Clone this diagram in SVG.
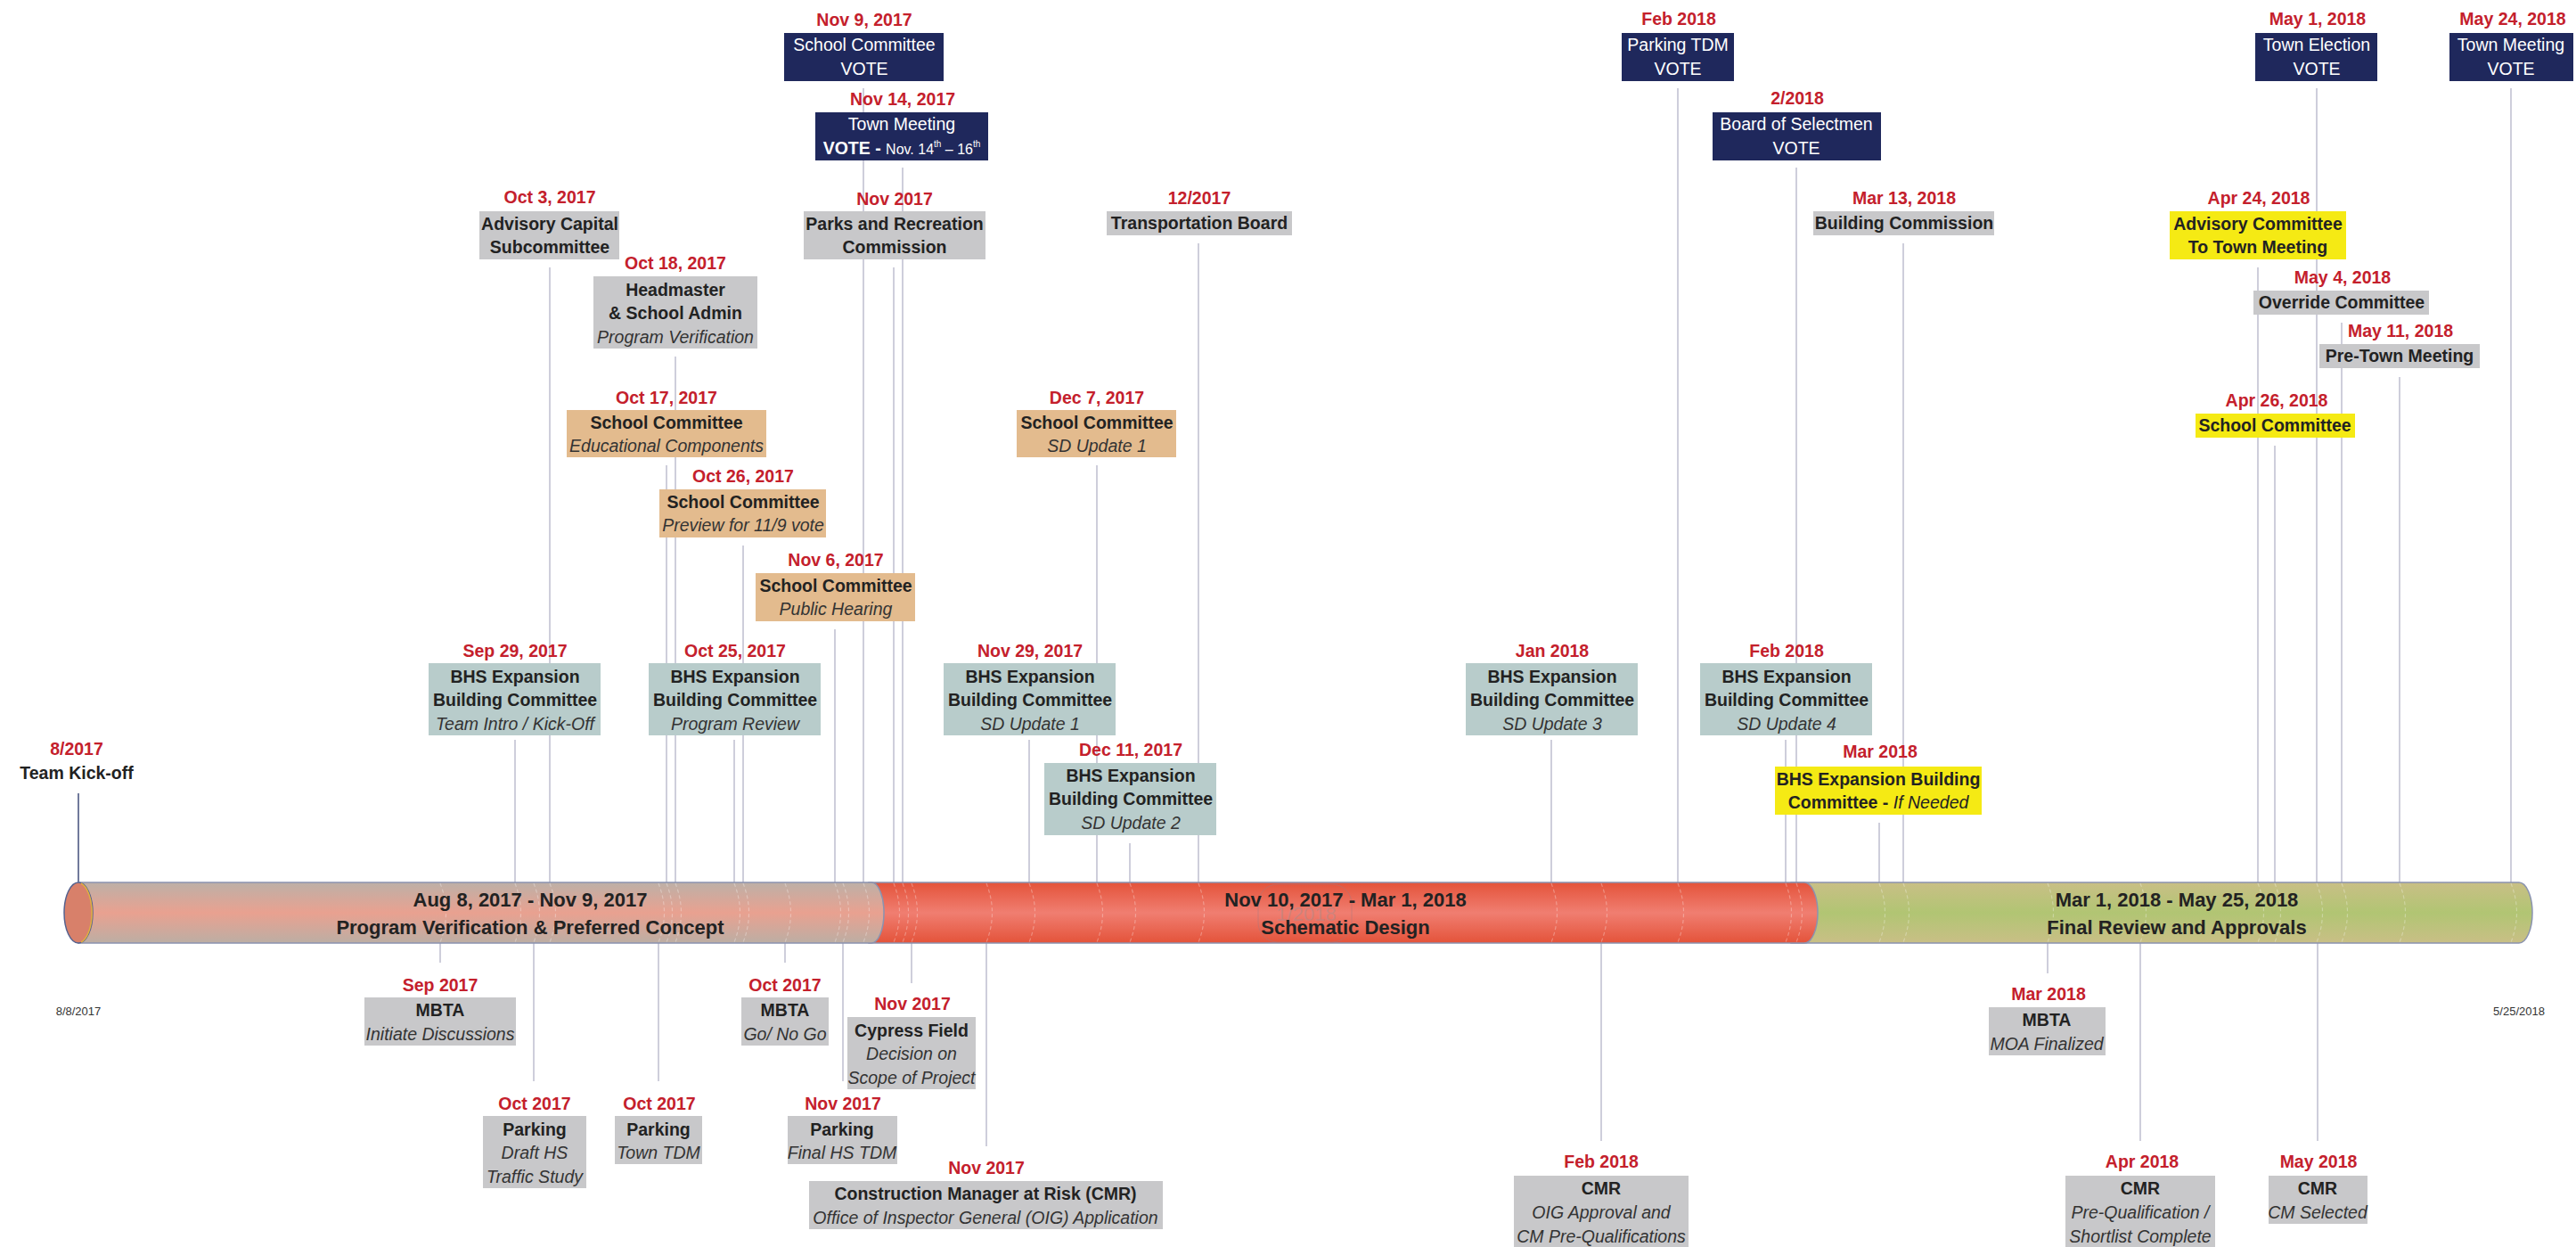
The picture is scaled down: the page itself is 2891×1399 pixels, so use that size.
<svg xmlns="http://www.w3.org/2000/svg" width="2891" height="1399" viewBox="0 0 2891 1399">
<defs>
<linearGradient id="gPink" x1="0" y1="0" x2="0" y2="1">
<stop offset="0" stop-color="#bdb0a7"/><stop offset="0.5" stop-color="#e9a190"/><stop offset="1" stop-color="#bcaea4"/>
</linearGradient>
<linearGradient id="gRed" x1="0" y1="0" x2="0" y2="1">
<stop offset="0" stop-color="#e4533a"/><stop offset="0.5" stop-color="#f07e71"/><stop offset="1" stop-color="#e4533a"/>
</linearGradient>
<linearGradient id="gGreen" x1="0" y1="0" x2="0" y2="1">
<stop offset="0" stop-color="#c9bf86"/><stop offset="0.5" stop-color="#b1c573"/><stop offset="1" stop-color="#c9bf86"/>
</linearGradient>
</defs>
<style>
text{font-family:"Liberation Sans",Arial,sans-serif;text-anchor:middle}
.d{font-size:19.5px;font-weight:bold;fill:#c4202c}
.t{font-size:19.5px;font-weight:bold;fill:#222}
.i{font-size:19.5px;font-style:italic;fill:#333}
.it{font-style:italic;font-weight:normal}
.w{font-size:19.5px;fill:#fff}
.wb{font-weight:bold}
.bar{font-size:22px;font-weight:bold;fill:#222}
.sm{font-size:13px;fill:#333}
.grey{fill:#c8c8ca}
.navy{fill:#1f285c}
.teal{fill:#b8cccb}
.tan{fill:#e3bb8e}
.yel{fill:#f5ea14}
.c{stroke:#c2c2d2;stroke-width:1.6;fill:none}
.seg{stroke:#8a93b0;stroke-width:1.5}
</style>
<rect width="2891" height="1399" fill="#fff"/>

<g id="connectors">
<line class="c" x1="88" y1="890" x2="88" y2="990" style="stroke:#4d5883"/>
<line class="c" x1="578" y1="830" x2="578" y2="990"/>
<line class="c" x1="617" y1="300" x2="617" y2="990"/>
<line class="c" x1="748" y1="522" x2="748" y2="990"/>
<line class="c" x1="758" y1="400" x2="758" y2="990"/>
<line class="c" x1="824" y1="830" x2="824" y2="990"/>
<line class="c" x1="834" y1="612" x2="834" y2="990"/>
<line class="c" x1="937" y1="706" x2="937" y2="990"/>
<line class="c" x1="969" y1="99" x2="969" y2="990"/>
<line class="c" x1="1003" y1="300" x2="1003" y2="990"/>
<line class="c" x1="1013" y1="188" x2="1013" y2="990"/>
<line class="c" x1="1155" y1="830" x2="1155" y2="990"/>
<line class="c" x1="1231" y1="522" x2="1231" y2="990"/>
<line class="c" x1="1268" y1="946" x2="1268" y2="990"/>
<line class="c" x1="1345" y1="273" x2="1345" y2="990"/>
<line class="c" x1="1741" y1="830" x2="1741" y2="990"/>
<line class="c" x1="1883" y1="99" x2="1883" y2="990"/>
<line class="c" x1="2004" y1="830" x2="2004" y2="990"/>
<line class="c" x1="2016" y1="188" x2="2016" y2="990"/>
<line class="c" x1="2109" y1="923" x2="2109" y2="990"/>
<line class="c" x1="2136" y1="273" x2="2136" y2="990"/>
<line class="c" x1="2534" y1="300" x2="2534" y2="990"/>
<line class="c" x1="2553" y1="500" x2="2553" y2="990"/>
<line class="c" x1="2600" y1="99" x2="2600" y2="990"/>
<line class="c" x1="2628" y1="362" x2="2628" y2="990"/>
<line class="c" x1="2693" y1="423" x2="2693" y2="990"/>
<line class="c" x1="2818" y1="99" x2="2818" y2="990"/>
<line class="c" x1="494" y1="1058" x2="494" y2="1080"/>
<line class="c" x1="599" y1="1058" x2="599" y2="1213"/>
<line class="c" x1="739" y1="1058" x2="739" y2="1213"/>
<line class="c" x1="881" y1="1058" x2="881" y2="1080"/>
<line class="c" x1="946" y1="1058" x2="946" y2="1213"/>
<line class="c" x1="1023" y1="1058" x2="1023" y2="1103"/>
<line class="c" x1="1107" y1="1058" x2="1107" y2="1286"/>
<line class="c" x1="1797" y1="1058" x2="1797" y2="1280"/>
<line class="c" x1="2298" y1="1058" x2="2298" y2="1092"/>
<line class="c" x1="2402" y1="1058" x2="2402" y2="1280"/>
<line class="c" x1="2601" y1="1058" x2="2601" y2="1280"/>
</g>

<g id="timeline-bar">
<path class="seg" d="M2010,990 H2827 A15,34 0 0 1 2827,1058 H2010 Z" fill="url(#gGreen)"/>
<path class="seg" d="M975,990 H2025 A15,34 0 0 1 2025,1058 H975 Z" fill="url(#gRed)"/>
<path class="seg" d="M88,990 H978 A14,34 0 0 1 978,1058 H88 Z" fill="url(#gPink)"/>
<path d="M494,991q13,33 0,66M578,991q13,33 0,66M599,991q13,33 0,66M617,991q13,33 0,66M739,991q13,33 0,66M748,991q13,33 0,66M758,991q13,33 0,66M824,991q13,33 0,66M834,991q13,33 0,66M881,991q13,33 0,66M937,991q13,33 0,66M946,991q13,33 0,66M969,991q13,33 0,66M1003,991q13,33 0,66M1013,991q13,33 0,66M1023,991q13,33 0,66M1107,991q13,33 0,66M1155,991q13,33 0,66M1231,991q13,33 0,66M1268,991q13,33 0,66M1345,991q13,33 0,66M1741,991q13,33 0,66M1797,991q13,33 0,66M1883,991q13,33 0,66M2004,991q13,33 0,66M2016,991q13,33 0,66M2109,991q13,33 0,66M2136,991q13,33 0,66M2298,991q13,33 0,66M2402,991q13,33 0,66M2534,991q13,33 0,66M2553,991q13,33 0,66M2600,991q13,33 0,66M2628,991q13,33 0,66M2693,991q13,33 0,66M2818,991q13,33 0,66" fill="none" stroke="#ffffff" stroke-opacity="0.3" stroke-width="1.2" stroke-dasharray="4 3"/>
<ellipse cx="88" cy="1024" rx="16" ry="34" fill="#d8806a" stroke="#56628e" stroke-width="1.5"/>
<path d="M91,991 A16,34 0 0 1 91,1057" fill="none" stroke="#e0b040" stroke-width="1.5"/>
<rect x="1412" y="992" width="105" height="65" rx="22" fill="none" stroke="#a07a80" stroke-opacity="0.45"/>
<text x="1466" y="1033" style="font-size:22px;fill:#b08a8a;fill-opacity:0.55">1/2018</text>
<text class="bar" x="595" y="1017">Aug 8, 2017 - Nov 9, 2017</text>
<text class="bar" x="595" y="1048">Program Verification &amp; Preferred Concept</text>
<text class="bar" x="1510" y="1017">Nov 10, 2017 - Mar 1, 2018</text>
<text class="bar" x="1510" y="1048">Schematic Design</text>
<text class="bar" x="2443" y="1017">Mar 1, 2018 - May 25, 2018</text>
<text class="bar" x="2443" y="1048">Final Review and Approvals</text>
<text class="sm" x="88" y="1139">8/8/2017</text>
<text class="sm" x="2827" y="1139">5/25/2018</text>
</g>

<g id="n-kickoff"><text class="d" x="86" y="847">8/2017</text><text class="t" x="86" y="874">Team Kick-off</text></g>

<g id="n-oct3"><text class="d" x="617" y="228">Oct 3, 2017</text><rect class="grey" x="538" y="237" width="157" height="54"/><text class="t" x="617" y="258">Advisory Capital</text><text class="t" x="617" y="284">Subcommittee</text></g>

<g id="n-oct18"><text class="d" x="758" y="302">Oct 18, 2017</text><rect class="grey" x="666" y="310" width="184" height="81"/><text class="t" x="758" y="332">Headmaster</text><text class="t" x="758" y="358">&amp; School Admin</text><text class="i" x="758" y="385">Program Verification</text></g>

<g id="n-oct17"><text class="d" x="748" y="453">Oct 17, 2017</text><rect class="tan" x="636" y="460" width="224" height="53"/><text class="t" x="748" y="481">School Committee</text><text class="i" x="748" y="507">Educational Components</text></g>

<g id="n-oct26"><text class="d" x="834" y="541">Oct 26, 2017</text><rect class="tan" x="740" y="549" width="187" height="54"/><text class="t" x="834" y="570">School Committee</text><text class="i" x="834" y="596">Preview for 11/9 vote</text></g>

<g id="n-nov6"><text class="d" x="938" y="635">Nov 6, 2017</text><rect class="tan" x="848" y="643" width="179" height="54"/><text class="t" x="938" y="664">School Committee</text><text class="i" x="938" y="690">Public Hearing</text></g>

<g id="n-sep29"><text class="d" x="578" y="737">Sep 29, 2017</text><rect class="teal" x="481" y="744" width="193" height="81"/><text class="t" x="578" y="766">BHS Expansion</text><text class="t" x="578" y="792">Building Committee</text><text class="i" x="578" y="819">Team Intro / Kick-Off</text></g>

<g id="n-oct25"><text class="d" x="825" y="737">Oct 25, 2017</text><rect class="teal" x="728" y="744" width="193" height="81"/><text class="t" x="825" y="766">BHS Expansion</text><text class="t" x="825" y="792">Building Committee</text><text class="i" x="825" y="819">Program Review</text></g>

<g id="n-nov29"><text class="d" x="1156" y="737">Nov 29, 2017</text><rect class="teal" x="1059" y="744" width="193" height="81"/><text class="t" x="1156" y="766">BHS Expansion</text><text class="t" x="1156" y="792">Building Committee</text><text class="i" x="1156" y="819">SD Update 1</text></g>

<g id="n-dec11"><text class="d" x="1269" y="848">Dec 11, 2017</text><rect class="teal" x="1172" y="856" width="193" height="81"/><text class="t" x="1269" y="877">BHS Expansion</text><text class="t" x="1269" y="903">Building Committee</text><text class="i" x="1269" y="930">SD Update 2</text></g>

<g id="n-jan"><text class="d" x="1742" y="737">Jan 2018</text><rect class="teal" x="1645" y="744" width="193" height="81"/><text class="t" x="1742" y="766">BHS Expansion</text><text class="t" x="1742" y="792">Building Committee</text><text class="i" x="1742" y="819">SD Update 3</text></g>

<g id="n-feb"><text class="d" x="2005" y="737">Feb 2018</text><rect class="teal" x="1908" y="744" width="193" height="81"/><text class="t" x="2005" y="766">BHS Expansion</text><text class="t" x="2005" y="792">Building Committee</text><text class="i" x="2005" y="819">SD Update 4</text></g>

<g id="n-nov9"><text class="d" x="970" y="29">Nov 9, 2017</text><rect class="navy" x="880" y="37" width="179" height="54"/><text class="w" x="970" y="57">School Committee</text><text class="w" x="970" y="84">VOTE</text></g>

<g id="n-nov14"><text class="d" x="1013" y="118">Nov 14, 2017</text><rect class="navy" x="915" y="126" width="194" height="54"/><text class="w" x="1012" y="146">Town Meeting</text><text class="w" x="1012" y="173"><tspan class="wb">VOTE - </tspan><tspan style="font-size:16px">Nov. 14</tspan><tspan style="font-size:10px" dy="-8">th</tspan><tspan style="font-size:16px" dy="8"> – 16</tspan><tspan style="font-size:10px" dy="-8">th</tspan></text></g>

<g id="n-parks"><text class="d" x="1004" y="230">Nov 2017</text><rect class="grey" x="902" y="237" width="204" height="54"/><text class="t" x="1004" y="258">Parks and Recreation</text><text class="t" x="1004" y="284">Commission</text></g>

<g id="n-dec7"><text class="d" x="1231" y="453">Dec 7, 2017</text><rect class="tan" x="1141" y="460" width="179" height="53"/><text class="t" x="1231" y="481">School Committee</text><text class="i" x="1231" y="507">SD Update 1</text></g>

<g id="n-trans"><text class="d" x="1346" y="229">12/2017</text><rect class="grey" x="1242" y="237" width="208" height="27"/><text class="t" x="1346" y="257">Transportation Board</text></g>

<g id="n-feb-tdm"><text class="d" x="1884" y="28">Feb 2018</text><rect class="navy" x="1820" y="37" width="126" height="54"/><text class="w" x="1883" y="57">Parking TDM</text><text class="w" x="1883" y="84">VOTE</text></g>

<g id="n-bos"><text class="d" x="2017" y="117">2/2018</text><rect class="navy" x="1922" y="126" width="189" height="54"/><text class="w" x="2016" y="146">Board of Selectmen</text><text class="w" x="2016" y="173">VOTE</text></g>

<g id="n-mar13"><text class="d" x="2137" y="229">Mar 13, 2018</text><rect class="grey" x="2035" y="237" width="203" height="27"/><text class="t" x="2137" y="257">Building Commission</text></g>

<g id="n-mar-bhs"><text class="d" x="2110" y="850">Mar 2018</text><rect class="yel" x="1992" y="860" width="232" height="54"/><text class="t" x="2108" y="881">BHS Expansion Building</text><text class="t" x="2108" y="907">Committee - <tspan class="it">If Needed</tspan></text></g>

<g id="n-apr24"><text class="d" x="2535" y="229">Apr 24, 2018</text><rect class="yel" x="2435" y="237" width="198" height="54"/><text class="t" x="2534" y="258">Advisory Committee</text><text class="t" x="2534" y="284">To Town Meeting</text></g>

<g id="n-may4"><text class="d" x="2629" y="318">May 4, 2018</text><rect class="grey" x="2529" y="326" width="197" height="27"/><text class="t" x="2628" y="346">Override Committee</text></g>

<g id="n-may11"><text class="d" x="2694" y="378">May 11, 2018</text><rect class="grey" x="2603" y="386" width="180" height="27"/><text class="t" x="2693" y="406">Pre-Town Meeting</text></g>

<g id="n-apr26"><text class="d" x="2555" y="456">Apr 26, 2018</text><rect class="yel" x="2464" y="464" width="179" height="27"/><text class="t" x="2553" y="484">School Committee</text></g>

<g id="n-may1"><text class="d" x="2601" y="28">May 1, 2018</text><rect class="navy" x="2531" y="37" width="137" height="54"/><text class="w" x="2600" y="57">Town Election</text><text class="w" x="2600" y="84">VOTE</text></g>

<g id="n-may24"><text class="d" x="2820" y="28">May 24, 2018</text><rect class="navy" x="2749" y="37" width="139" height="54"/><text class="w" x="2818" y="57">Town Meeting</text><text class="w" x="2818" y="84">VOTE</text></g>

<g id="n-sep-mbta"><text class="d" x="494" y="1112">Sep 2017</text><rect class="grey" x="409" y="1119" width="170" height="54"/><text class="t" x="494" y="1140">MBTA</text><text class="i" x="494" y="1167">Initiate Discussions</text></g>

<g id="n-oct-parking"><text class="d" x="600" y="1245">Oct 2017</text><rect class="grey" x="542" y="1252" width="116" height="81"/><text class="t" x="600" y="1274">Parking</text><text class="i" x="600" y="1300">Draft HS</text><text class="i" x="600" y="1327">Traffic Study</text></g>

<g id="n-oct-town"><text class="d" x="740" y="1245">Oct 2017</text><rect class="grey" x="690" y="1252" width="98" height="54"/><text class="t" x="739" y="1274">Parking</text><text class="i" x="739" y="1300">Town TDM</text></g>

<g id="n-oct-mbta"><text class="d" x="881" y="1112">Oct 2017</text><rect class="grey" x="832" y="1119" width="98" height="54"/><text class="t" x="881" y="1140">MBTA</text><text class="i" x="881" y="1167">Go/ No Go</text></g>

<g id="n-nov-parking"><text class="d" x="946" y="1245">Nov 2017</text><rect class="grey" x="884" y="1252" width="123" height="54"/><text class="t" x="945" y="1274">Parking</text><text class="i" x="945" y="1300">Final HS TDM</text></g>

<g id="n-cypress"><text class="d" x="1024" y="1133">Nov 2017</text><rect class="grey" x="951" y="1141" width="144" height="81"/><text class="t" x="1023" y="1163">Cypress Field</text><text class="i" x="1023" y="1189">Decision on</text><text class="i" x="1023" y="1216">Scope of Project</text></g>

<g id="n-cmr-nov"><text class="d" x="1107" y="1317">Nov 2017</text><rect class="grey" x="908" y="1325" width="397" height="54"/><text class="t" x="1106" y="1346">Construction Manager at Risk (CMR)</text><text class="i" x="1106" y="1373">Office of Inspector General (OIG) Application</text></g>

<g id="n-cmr-feb"><text class="d" x="1797" y="1310">Feb 2018</text><rect class="grey" x="1699" y="1319" width="196" height="80"/><text class="t" x="1797" y="1340">CMR</text><text class="i" x="1797" y="1367">OIG Approval and</text><text class="i" x="1797" y="1394">CM Pre-Qualifications</text></g>

<g id="n-mar-mbta"><text class="d" x="2299" y="1122">Mar 2018</text><rect class="grey" x="2232" y="1130" width="131" height="54"/><text class="t" x="2297" y="1151">MBTA</text><text class="i" x="2297" y="1178">MOA Finalized</text></g>

<g id="n-cmr-apr"><text class="d" x="2404" y="1310">Apr 2018</text><rect class="grey" x="2318" y="1319" width="168" height="80"/><text class="t" x="2402" y="1340">CMR</text><text class="i" x="2402" y="1367">Pre-Qualification /</text><text class="i" x="2402" y="1394">Shortlist Complete</text></g>

<g id="n-cmr-may"><text class="d" x="2602" y="1310">May 2018</text><rect class="grey" x="2546" y="1319" width="111" height="54"/><text class="t" x="2601" y="1340">CMR</text><text class="i" x="2601" y="1367">CM Selected</text></g>
</svg>
